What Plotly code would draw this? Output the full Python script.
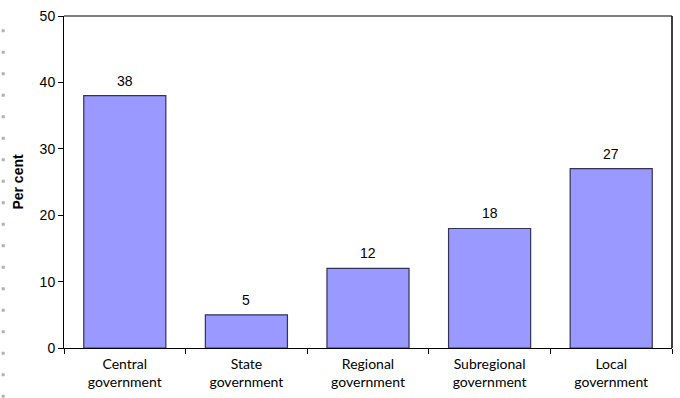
import plotly.graph_objects as go

categories = ["Central<br>government", "State<br>government", "Regional<br>government",
              "Subregional<br>government", "Local<br>government"]
values = [38, 5, 12, 18, 27]
y_ticks = [0, 10, 20, 30, 40, 50]

fig = go.Figure()
fig.add_trace(go.Bar(
    x=categories, y=values, width=0.675,
    marker=dict(color="#9999FF", line=dict(color="#333355", width=1.2)),
    cliponaxis=False,
))
for c, v in zip(categories, values):
    fig.add_annotation(x=c, y=v, text=str(v), showarrow=False, yanchor="bottom", yshift=5,
                       font=dict(family="Liberation Sans, Arial", size=14, color="#000"))

fig.update_layout(
    width=680, height=398,
    margin=dict(l=64, r=8, t=13, b=50),
    plot_bgcolor="white", paper_bgcolor="white",
    showlegend=False,
)
fig.update_xaxes(
    type="category", range=[-0.5, 4.5],
    showline=True, linecolor="black", linewidth=1,
    ticks="outside", tickson="boundaries", ticklen=5, tickcolor="black",
    tickfont=dict(family="Lato, Noto Sans", size=14, color="#000"),
    ticklabelstandoff=3,
    showgrid=False,
)
fig.update_yaxes(
    range=[0, 50], tickvals=y_ticks,
    showline=True, linecolor="black", linewidth=1,
    ticks="outside", ticklen=5, tickcolor="black",
    tickfont=dict(family="Liberation Sans, Arial", size=14, color="#000"),
    showgrid=False, zeroline=False,
    title=dict(text="<b>Per cent</b>", font=dict(family="Liberation Sans, Arial", size=14, color="#000"), standoff=12),
)
# frame: gray top, black right
fig.add_shape(type="line", xref="paper", yref="paper", x0=0, x1=1, y0=1, y1=1,
              line=dict(color="#808080", width=2))
fig.add_shape(type="line", xref="paper", yref="paper", x0=1, x1=1, y0=0, y1=1,
              line=dict(color="black", width=1.5))
# dotted line at left edge of page
fig.add_shape(type="line", xref="paper", yref="paper", x0=-0.1, x1=-0.1, y0=-0.15, y1=1.01,
              line=dict(color="#b0b0b0", width=3, dash="3px,18.5px"))

fig.write_html("out.html")
